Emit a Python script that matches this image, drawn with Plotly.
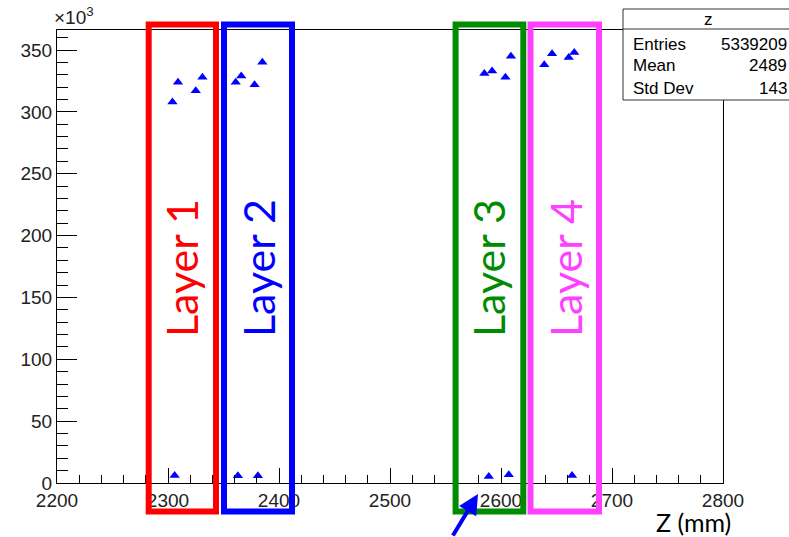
import plotly.graph_objects as go

# ---- data (counts in units of 10^3) ----
z_upper = [2304, 2309, 2325, 2331, 2361, 2366, 2378, 2385,
           2585, 2592, 2604, 2609, 2639, 2646, 2661, 2666]
counts_upper = [308, 324, 317, 328, 324, 329, 322, 340,
                331, 333, 328, 345, 338, 347, 344, 348]
z_lower = [2306, 2363, 2381, 2589, 2607, 2664]
counts_lower = [6.1, 5.9, 5.9, 5.3, 6.7, 6.1]

layer_names = ["Layer 1", "Layer 2", "Layer 3", "Layer 4"]
layer_colors = ["#ff0000", "#0000ff", "#008c00", "#ff40ff"]

stats_labels = ["Entries", "Mean", "Std Dev"]
stats_values = ["5339209", "2489", "143"]
hist_name = "z"

W, H = 789, 537
ML, MR, MT, MB = 57, 66, 30, 54
PW, PH = W - ML - MR, H - MT - MB


def px(x):
    return (x - ML) / PW


def py(y):
    return (H - MB - y) / PH


FONT = "Liberation Sans, Arial, sans-serif"
SLIDE_FONT = "Lato, Open Sans, sans-serif"

fig = go.Figure()
fig.add_trace(go.Scatter(
    x=z_upper + z_lower, y=counts_upper + counts_lower, mode="markers",
    marker=dict(symbol="triangle-up", size=9, color="#0000ff", line=dict(width=0)),
    showlegend=False, cliponaxis=False))

axis_common = dict(showgrid=False, zeroline=False, showline=True, linecolor="black",
                   linewidth=1, mirror=True, ticks="inside", tickcolor="black",
                   tickwidth=1, tickfont=dict(family=FONT, size=19, color="#222"))

fig.update_xaxes(range=[2200, 2800], tick0=2200, dtick=100, ticklen=15,
                 minor=dict(dtick=20, ticks="inside", ticklen=8, tickcolor="black"),
                 **axis_common)
fig.update_yaxes(range=[0, PH / ((H - MB - 50) / 350)], tick0=0, dtick=50, ticklen=20,
                 minor=dict(dtick=10, ticks="inside", ticklen=11, tickcolor="black"),
                 **axis_common)

shapes = []
annotations = []

# layer boxes (slide overlay, pixel positions)
box_x = [(148.7, 216), (224, 292), (455.6, 523.3), (530.5, 599)]
text_x = [181, 258, 488, 565]
for (x0, x1), tx, name, col in zip(box_x, text_x, layer_names, layer_colors):
    shapes.append(dict(type="rect", xref="paper", yref="paper",
                       x0=px(x0), x1=px(x1), y0=py(511.5), y1=py(24.5),
                       line=dict(color=col, width=6), layer="above"))
    annotations.append(dict(xref="paper", yref="paper", x=px(tx), y=py(268),
                            text=name, showarrow=False, textangle=-90,
                            font=dict(family=SLIDE_FONT, size=43, color=col),
                            xanchor="center", yanchor="middle"))

# stats box
shapes.append(dict(type="rect", xref="paper", yref="paper",
                   x0=px(623), x1=px(805), y0=py(100), y1=py(9),
                   line=dict(color="#333", width=1), fillcolor="white", layer="above"))
shapes.append(dict(type="line", xref="paper", yref="paper",
                   x0=px(623), x1=px(805), y0=py(29), y1=py(29),
                   line=dict(color="#333", width=1), layer="above"))
annotations.append(dict(xref="paper", yref="paper", x=px(708), y=py(19), text=hist_name,
                        showarrow=False, xanchor="center", yanchor="middle",
                        font=dict(family=FONT, size=17, color="black")))
for i, (lab, val) in enumerate(zip(stats_labels, stats_values)):
    yy = py(44 + 22 * i)
    annotations.append(dict(xref="paper", yref="paper", x=px(631), y=yy, text=lab,
                            showarrow=False, xanchor="left", yanchor="middle",
                            font=dict(family=FONT, size=17, color="black")))
    annotations.append(dict(xref="paper", yref="paper", x=px(789), y=yy, text=val,
                            showarrow=False, xanchor="right", yanchor="middle",
                            font=dict(family=FONT, size=17, color="black")))

# axis exponent label
annotations.append(dict(xref="paper", yref="paper", x=px(52), y=py(30),
                        text="×10<sup>3</sup>", showarrow=False, xanchor="left",
                        yanchor="bottom", font=dict(family=FONT, size=19, color="#222")))

# axis title (slide text)
annotations.append(dict(xref="paper", yref="paper", x=px(693), y=py(522),
                        text="Z (mm)", showarrow=False, xanchor="center", yanchor="middle",
                        font=dict(family=SLIDE_FONT, size=25, color="black")))

# arrow
annotations.append(dict(xref="paper", yref="paper", x=px(478), y=py(494),
                        ax=-26, ay=52, text="", showarrow=True, arrowhead=2,
                        arrowsize=1, arrowwidth=4, arrowcolor="#0000ff"))

fig.update_layout(width=W, height=H, margin=dict(l=ML, r=MR, t=MT, b=MB),
                  plot_bgcolor="white", paper_bgcolor="white",
                  shapes=shapes, annotations=annotations)

fig.write_html("out.html")
